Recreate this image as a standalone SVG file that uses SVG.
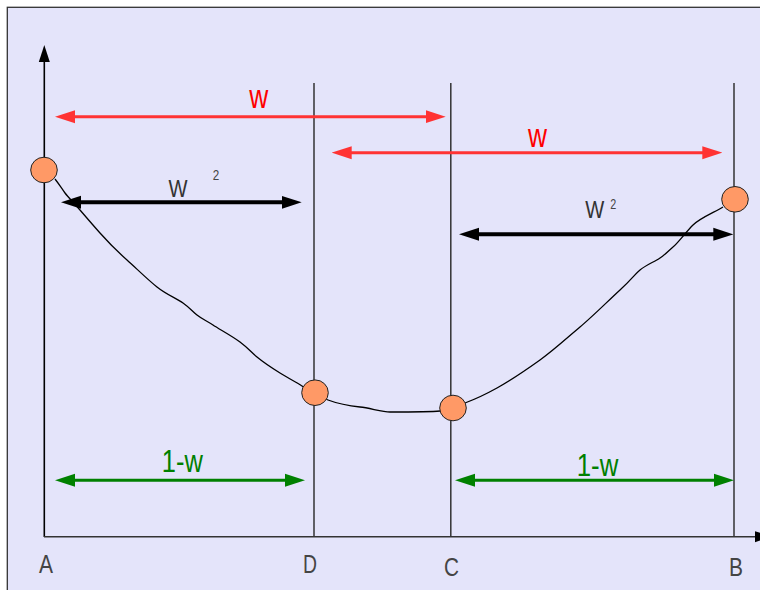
<svg xmlns="http://www.w3.org/2000/svg" width="760" height="590" viewBox="0 0 760 590">
  <style>
    .lbl { font-family: "Liberation Sans", Arial, sans-serif; text-anchor: middle; }
    .ax { font-size: 25px; fill: #444444; }
    .red { font-size: 33px; fill: #ff0000; }
    .blk { font-size: 24px; fill: #333333; }
    .sup { font-size: 14px; fill: #444444; }
    .grn { font-size: 31px; fill: #008000; }
    .vline { stroke: #333333; stroke-width: 1.5; fill: none; }
    .node { fill: #ff9966; stroke: #222222; stroke-width: 1; }
  </style>
  <defs>
    <marker id="mRed" viewBox="0 -7 20 14" refX="10" refY="0" markerWidth="20" markerHeight="14" markerUnits="userSpaceOnUse" orient="auto-start-reverse">
      <path d="M0,-6.5 L20,0 L0,6.5 z" fill="#ff3333"/>
    </marker>
    <marker id="mBlk" viewBox="0 -7 20 14" refX="10" refY="0" markerWidth="20" markerHeight="14" markerUnits="userSpaceOnUse" orient="auto-start-reverse">
      <path d="M0,-6.5 L20,0 L0,6.5 z" fill="#000000"/>
    </marker>
    <marker id="mGrn" viewBox="0 -7 20 14" refX="10" refY="0" markerWidth="20" markerHeight="14" markerUnits="userSpaceOnUse" orient="auto-start-reverse">
      <path d="M0,-6.5 L20,0 L0,6.5 z" fill="#008000"/>
    </marker>
    <marker id="mAxis" viewBox="0 -6 17 12" refX="0" refY="0" markerWidth="17" markerHeight="12" markerUnits="userSpaceOnUse" orient="auto">
      <path d="M0,-5.5 L17,0 L0,5.5 z" fill="#000000"/>
    </marker>
  </defs>

  <rect x="0" y="0" width="760" height="590" fill="#ffffff"/>
  <rect x="7.3" y="7.3" width="770" height="600" fill="#e4e4fa" stroke="#333333" stroke-width="1.3"/>

  <g id="axes">
    <line x1="44.3" y1="537" x2="44.3" y2="62" stroke="#000" stroke-width="1.6" marker-end="url(#mAxis)"/>
    <line x1="44" y1="536.7" x2="755" y2="536.7" stroke="#333" stroke-width="1.6" marker-end="url(#mAxis)"/>
  </g>

  <g id="gridlines">
    <line class="vline" x1="314" y1="83" x2="314" y2="537"/>
    <line class="vline" x1="450.8" y1="83" x2="450.8" y2="537"/>
    <line class="vline" x1="734" y1="83" x2="734" y2="537"/>
  </g>

  <g id="curve">
    <path d="M55,179 C59,184 62,189 65,193 S74,203 80,210 S92,224 100,233 S118,252 127,260 S147,279 157,287 S176,298 183,303 S192,311 197,315 S207,321 213,325 S232,336 240,342 S251,352 257,357 S272,368 280,373 S296,382 302,386 S320,397 328,400 S350,406 360,407 S382,412 390,412 S430,412 440,411 S457,406 465,403 S488,393 497,388 S526,370 540,360 S568,337 580,327 S607,302 620,290 S634,275 640,270 S654,262 660,258 S668,251 673,247 S686,232 693,225 S715,212 723,207" fill="none" stroke="#000" stroke-width="1.3"/>
  </g>

  <g id="connectors">
    <line x1="65" y1="116.7" x2="435.7" y2="116.7" stroke="#ff3333" stroke-width="3" marker-start="url(#mRed)" marker-end="url(#mRed)"/>
    <line x1="341.7" y1="152.7" x2="712.3" y2="152.7" stroke="#ff3333" stroke-width="3" marker-start="url(#mRed)" marker-end="url(#mRed)"/>
    <line x1="71" y1="202.3" x2="291.7" y2="202.3" stroke="#000" stroke-width="4" marker-start="url(#mBlk)" marker-end="url(#mBlk)"/>
    <line x1="469" y1="234.3" x2="723.3" y2="234.3" stroke="#000" stroke-width="4" marker-start="url(#mBlk)" marker-end="url(#mBlk)"/>
    <line x1="65" y1="480.3" x2="295" y2="480.3" stroke="#008000" stroke-width="3" marker-start="url(#mGrn)" marker-end="url(#mGrn)"/>
    <line x1="465" y1="480.3" x2="724" y2="480.3" stroke="#008000" stroke-width="3" marker-start="url(#mGrn)" marker-end="url(#mGrn)"/>
  </g>

  <g id="labels">
    <text class="lbl red" x="258.8" y="107.7" textLength="19" lengthAdjust="spacingAndGlyphs">w</text>
    <text class="lbl red" x="537.5" y="146.7" textLength="19" lengthAdjust="spacingAndGlyphs">w</text>
    <text class="lbl blk" x="178" y="197.3" textLength="19" lengthAdjust="spacingAndGlyphs">W</text>
    <text class="lbl sup" x="216" y="180" textLength="6.5" lengthAdjust="spacingAndGlyphs">2</text>
    <text class="lbl blk" x="594.7" y="218.3" textLength="19" lengthAdjust="spacingAndGlyphs">W</text>
    <text class="lbl sup" x="613.3" y="208.5" textLength="6" lengthAdjust="spacingAndGlyphs">2</text>
    <text class="lbl grn" x="182.3" y="472" textLength="41" lengthAdjust="spacingAndGlyphs">1-w</text>
    <text class="lbl grn" x="597.5" y="476" textLength="41.5" lengthAdjust="spacingAndGlyphs">1-w</text>
    <text class="lbl ax" x="46" y="573" textLength="14" lengthAdjust="spacingAndGlyphs">A</text>
    <text class="lbl ax" x="310" y="573" textLength="14" lengthAdjust="spacingAndGlyphs">D</text>
    <text class="lbl ax" x="451.5" y="576" textLength="15" lengthAdjust="spacingAndGlyphs">C</text>
    <text class="lbl ax" x="736" y="576" textLength="14" lengthAdjust="spacingAndGlyphs">B</text>
  </g>

  <g id="node-A"><ellipse class="node" cx="44" cy="170" rx="13.3" ry="12.8"/></g>
  <g id="node-D"><ellipse class="node" cx="315" cy="392.7" rx="13.3" ry="12.8"/></g>
  <g id="node-C"><ellipse class="node" cx="453" cy="408" rx="13.3" ry="12.8"/></g>
  <g id="node-B"><ellipse class="node" cx="735" cy="199.3" rx="13.3" ry="12.8"/></g>
</svg>
